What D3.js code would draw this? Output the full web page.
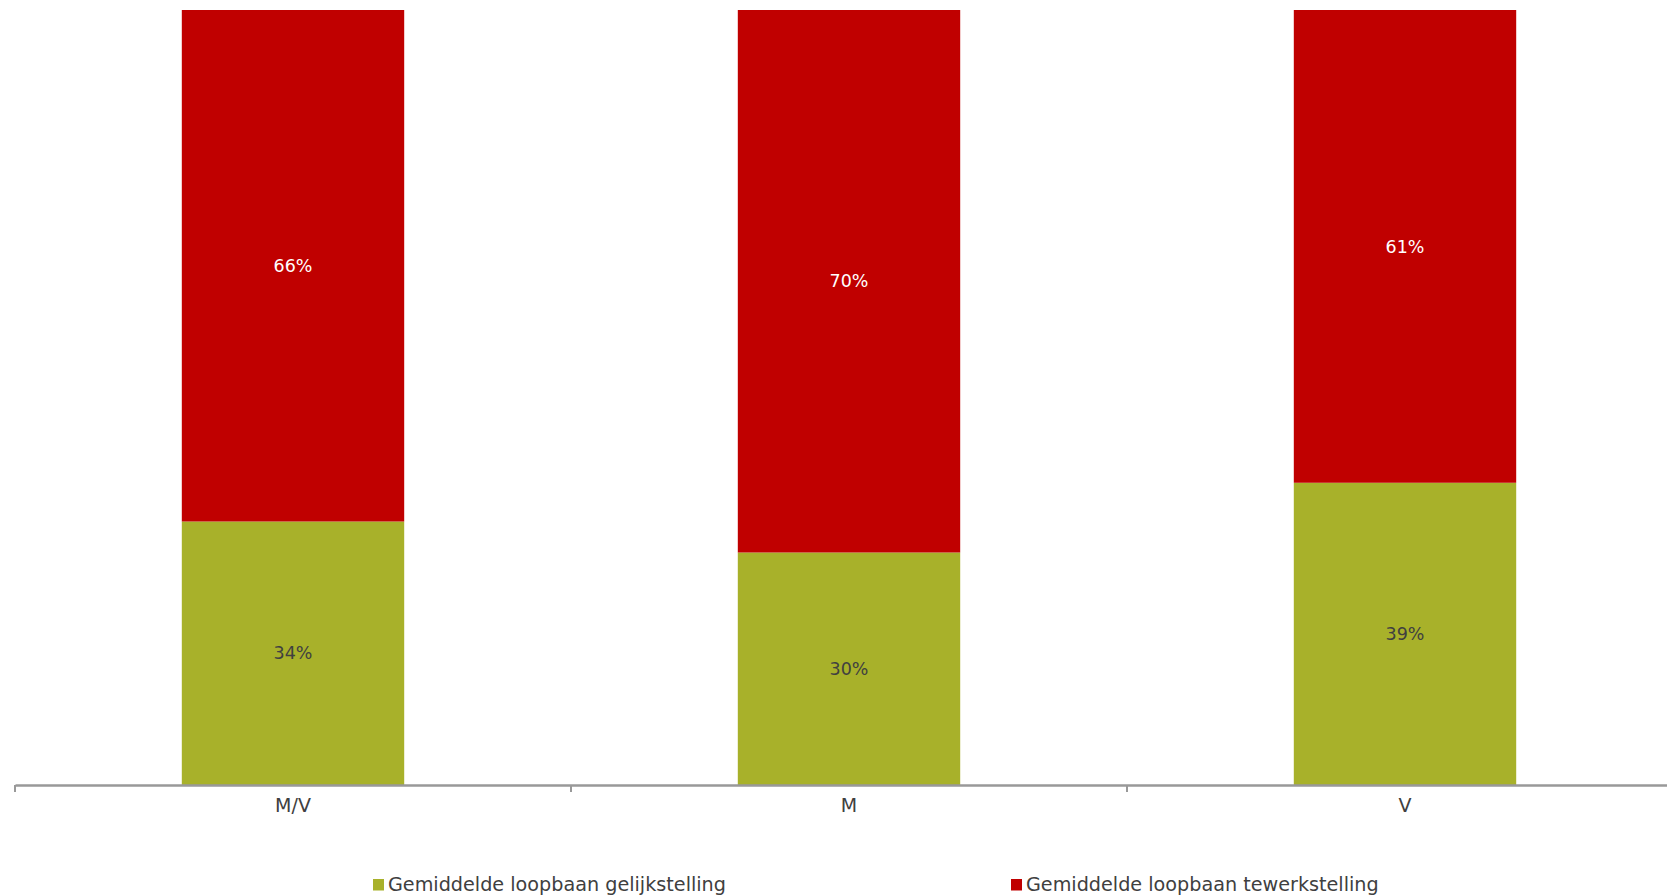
<!DOCTYPE html>
<html>
<head>
<meta charset="utf-8">
<script src="https://cdn.jsdelivr.net/npm/d3@7"></script>
<style>
  html, body { margin: 0; padding: 0; background: #fff; overflow: hidden; }
  svg { display: block; font-family: "DejaVu Sans", Verdana, sans-serif; }
</style>
</head>
<body>
<svg id="chart" width="1667" height="896"></svg>
<script>
const categories = ["M/V", "M", "V"];
const seriesNames = ["Gemiddelde loopbaan gelijkstelling", "Gemiddelde loopbaan tewerkstelling"];
const gelijkstelling = [0.34, 0.30, 0.39];
const tewerkstelling = [0.66, 0.70, 0.61];
const colors = ["#A8B12A", "#C00000"];
const labelColors = ["#404040", "#FFFFFF"];

const svg = d3.select("#chart");
const x = d3.scaleBand().domain(categories).range([15, 1683]).padding(0);
const y = d3.scaleLinear().domain([0, 1]).range([785, 10]);
const barFrac = 0.4;

const rows = categories.map((c, i) => ({ cat: c, values: [gelijkstelling[i], tewerkstelling[i]] }));
const stack = d3.stack().keys([0, 1]).value((d, k) => d.values[k]);
const stacked = stack(rows);

const bw = x.bandwidth() * barFrac;
stacked.forEach((layer, li) => {
  const g = svg.append("g");
  g.selectAll("rect").data(layer).enter().append("rect")
    .attr("x", d => x(d.data.cat) + (x.bandwidth() - bw) / 2)
    .attr("width", bw)
    .attr("y", d => y(d[1]))
    .attr("height", d => y(d[0]) - y(d[1]))
    .attr("fill", colors[li]);
  g.selectAll("text").data(layer).enter().append("text")
    .attr("x", d => x(d.data.cat) + x.bandwidth() / 2)
    .attr("y", d => (y(d[0]) + y(d[1])) / 2)
    .attr("dy", "0.35em")
    .attr("text-anchor", "middle")
    .attr("font-size", 17.5)
    .attr("fill", labelColors[li])
    .text(d => Math.round((d[1] - d[0]) * 100) + "%");
});

// axis
const axis = d3.axisBottom(x).tickSize(0).tickPadding(0);
const ag = svg.append("g").attr("transform", "translate(0,785)").call(axis);
ag.select(".domain").attr("stroke", "#999").attr("stroke-width", 2.5);
ag.selectAll(".tick text").attr("font-size", 19).attr("fill", "#404040")
  .attr("font-family", "DejaVu Sans").attr("dy", "0").attr("y", 27);
// boundary ticks
const bounds = categories.map(c => x(c)).concat([x.range()[1]]);
svg.append("g").selectAll("line").data(bounds).enter().append("line")
  .attr("x1", d => d).attr("x2", d => d)
  .attr("y1", 785).attr("y2", 792)
  .attr("stroke", "#999").attr("stroke-width", 2);

// legend
const legendX = [373, 1011];
const lg = svg.append("g");
seriesNames.forEach((name, i) => {
  lg.append("rect").attr("x", legendX[i]).attr("y", 879).attr("width", 11).attr("height", 11.5).attr("fill", colors[i]);
  lg.append("text").attr("x", legendX[i] + 15).attr("y", 891)
    .attr("font-size", 19.2).attr("fill", "#404040").text(name);
});
</script>
</body>
</html>
